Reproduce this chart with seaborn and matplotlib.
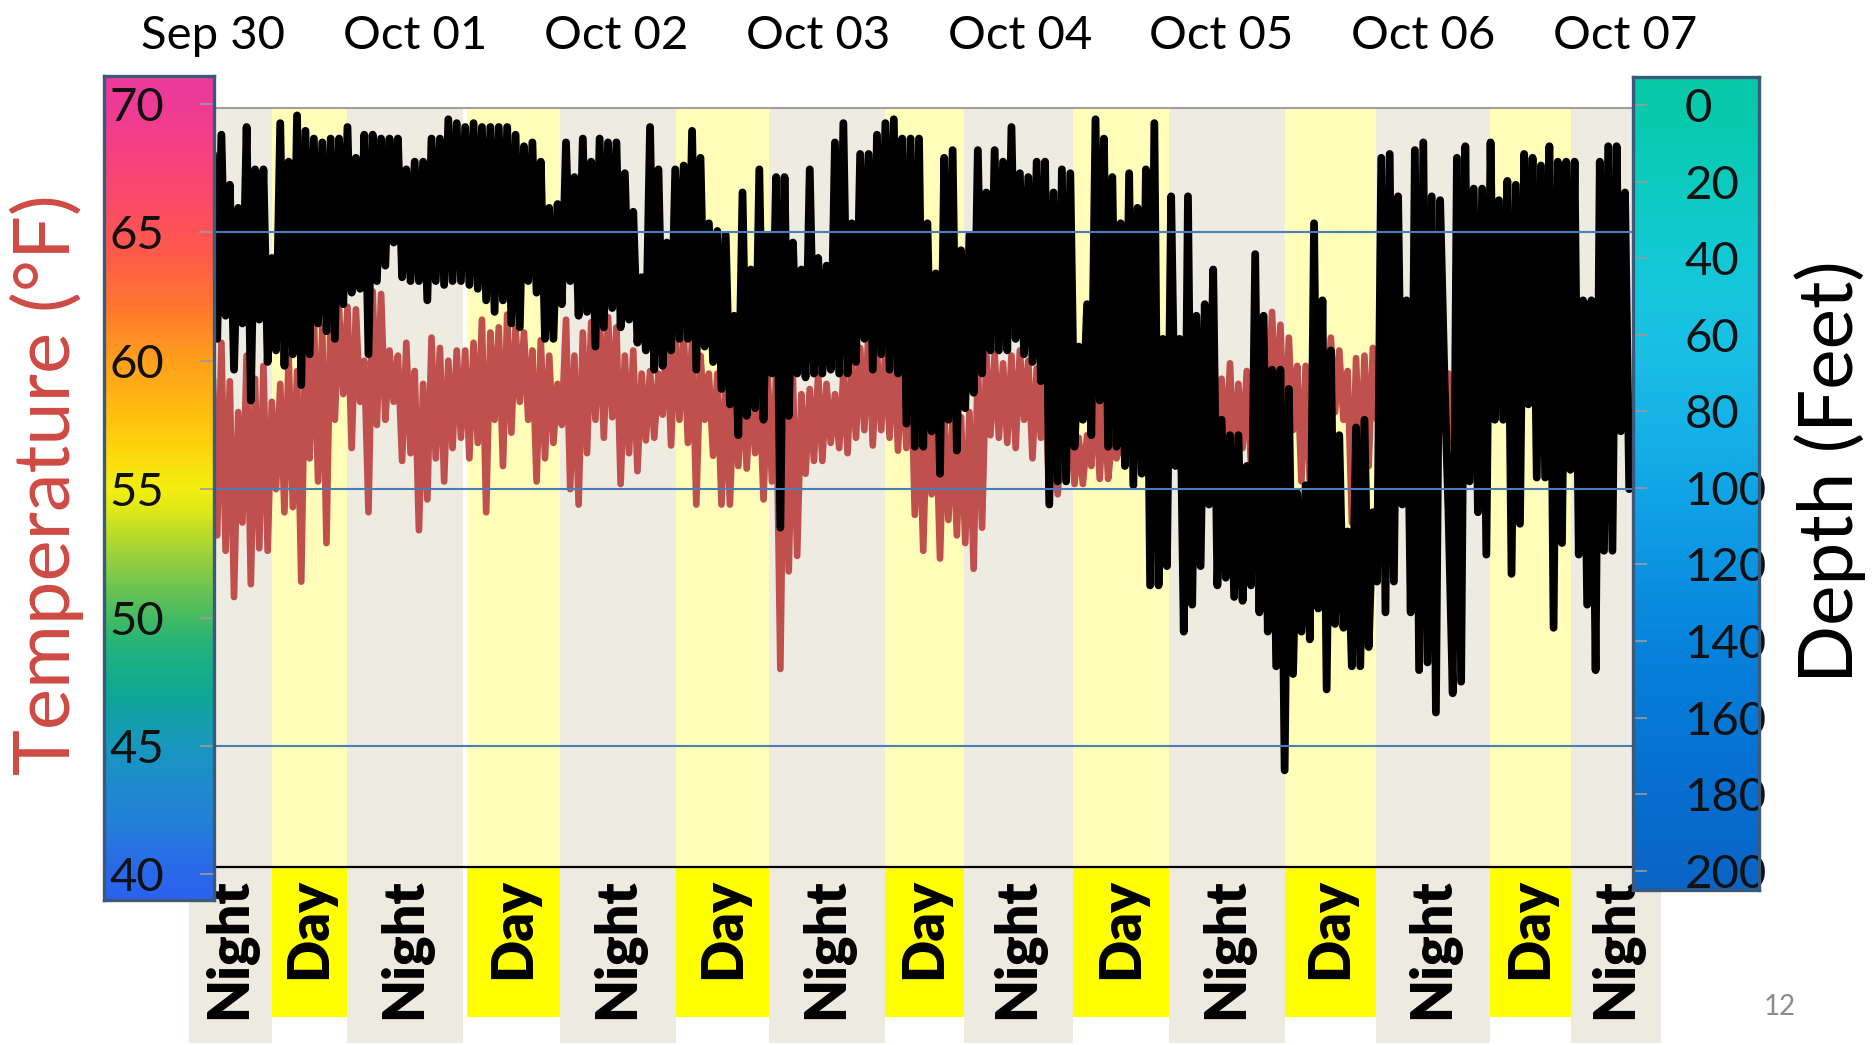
import numpy as np
import pandas as pd
import matplotlib
matplotlib.use("Agg")
import matplotlib.pyplot as plt
import matplotlib.transforms as mtransforms
from matplotlib.colors import LinearSegmentedColormap, Normalize
from matplotlib.lines import Line2D
from matplotlib.patches import Rectangle
import seaborn as sns

# hourly readings off the tag log, hour 0 = midnight Sep 30
# shallowest / deepest point reached in each hour (feet)
depth_shallow = [
    13, 8, 21, 27, 6, 17, 17, 40, 5, 15, 3, 7, 9, 10, 9, 9, 6, 14, 8, 8, 9, 9, 9, 17,
    15, 15, 9, 9, 4, 5, 6, 5, 6, 6, 6, 6, 8, 11, 10, 15, 27, 26, 10, 19, 9, 15, 9, 10,
    10, 18, 28, 45, 6, 17, 36, 17, 16, 7, 14, 31, 33, 34, 55, 23, 43, 17, 34, 19, 19, 36,
    43, 17, 40, 42, 10, 5, 31, 13, 13, 8, 5, 4, 9, 9, 9, 31, 44, 14, 12, 38, 34, 12,
    23, 12, 15, 6, 18, 19, 15, 15, 23, 17, 18, 63, 52, 4, 9, 19, 31, 18, 27, 17, 5, 61,
    24, 61, 24, 55, 52, 43, 82, 86, 86, 94, 39, 55, 69, 69, 74, 101, 99, 31, 51, 64, 86, 111,
    84, 82, 106, 14, 13, 24, 51, 12, 10, 24, 25, 106, 14, 11, 22, 22, 10, 25, 20, 21, 13, 14,
    16, 11, 15, 15, 15, 51, 51, 15, 11, 11, 23,
]
depth_deep = [
    61, 55, 69, 57, 77, 56, 67, 64, 68, 65, 73, 65, 57, 59, 61, 52, 49, 48, 65, 46, 42, 36, 45, 46,
    46, 51, 46, 47, 46, 46, 47, 48, 51, 54, 51, 57, 58, 46, 49, 61, 61, 52, 46, 55, 54, 63, 58, 53,
    58, 56, 62, 64, 69, 68, 64, 61, 61, 69, 63, 67, 74, 78, 86, 81, 79, 82, 70, 110, 81, 70,
    71, 70, 70, 69, 70, 70, 67, 61, 69, 65, 69, 70, 83, 89, 89, 85, 96, 82, 90, 79, 75, 70,
    64, 64, 64, 61, 65, 67, 72, 104, 98, 98, 89, 82, 86, 77, 89, 89, 94, 99, 96, 125, 125, 120,
    94, 137, 130, 120, 104, 125, 123, 128, 129, 125, 132, 137, 146, 173, 148, 137, 139, 131, 152, 135, 136, 146,
    146, 141, 124, 132, 124, 104, 132, 147, 145, 158, 70, 153, 150, 98, 106, 117, 82, 82, 122, 109, 78, 97,
    97, 136, 114, 95, 117, 130, 147, 116, 116, 85, 100,
]
# warmest / coldest water in each hour (deg F)
temp_warm = [
    59.3, 60.7, 59.2, 58.0, 60.2, 59.3, 59.8, 58.4, 59.1, 60.2, 59.6, 61.2, 61.8, 61.3, 62.1, 62.0,
    62.1, 62.0, 60.0, 62.7, 62.6, 60.4, 60.2, 60.7, 59.6, 59.1, 60.9, 60.5,
    60.0, 60.4, 60.4, 60.7, 61.6, 61.1, 61.3, 61.8, 61.3, 61.1, 60.4, 60.8, 60.2, 59.1, 61.6, 60.2,
    61.1, 61.5, 61.9, 61.7, 61.3, 60.2, 60.4, 59.5, 59.6, 59.5, 61.1, 61.1,
    61.2, 60.9, 60.2, 59.5, 59.5, 59.3, 59.1, 59.3, 59.1, 59.1, 59.5, 59.5, 60.2, 59.3, 58.7, 58.9,
    59.5, 59.1, 58.7, 59.5, 60.2, 60.5, 61.3, 60.4, 60.5, 60.7, 60.2, 60.5,
    58.4, 58.6, 58.0, 58.0, 57.8, 57.8, 58.0, 60.1, 60.2, 60.3, 59.9, 60.2, 60.4, 60.0, 59.7, 59.5,
    57.7, 57.3, 57.8, 57.0, 57.1, 59.1, 58.7, 57.0, 56.8, 58.6, 59.1, 59.5,
    59.5, 59.5, 59.3, 59.3, 59.5, 60.2, 60.7, 61.1, 59.3, 59.9, 59.1, 59.6, 58.7, 60.2, 61.9, 61.4,
    60.9, 59.8, 59.8, 59.1, 60.7, 60.9, 60.4, 59.6, 60.1, 60.2, 60.5, 59.5,
    60.2, 60.9, 61.3, 60.5, 60.9, 61.4, 59.8, 59.5, 60.5, 61.0, 61.0, 60.8, 60.8, 60.7, 60.9, 61.0,
    60.8, 60.6, 60.8, 60.9, 61.0, 60.7, 60.5, 60.6, 60.8, 60.9, 60.7, 60.5, 60.6,
]
temp_cold = [
    53.2, 52.6, 50.8, 53.7, 51.3, 52.7, 52.6, 55.0, 54.1, 54.3, 51.4, 56.2, 55.3, 52.9, 57.7, 58.7,
    56.6, 58.4, 54.1, 57.5, 57.7, 58.4, 56.1, 56.4, 53.4, 54.6, 56.2, 55.3,
    56.6, 57.0, 56.2, 56.8, 54.1, 57.7, 55.9, 57.2, 58.4, 57.7, 55.3, 56.2, 56.8, 57.5, 55.0, 54.4,
    56.4, 57.7, 57.0, 57.8, 55.2, 56.4, 55.7, 56.9, 57.0, 57.9, 56.7, 57.7,
    56.8, 54.4, 57.7, 56.3, 54.4, 54.4, 55.9, 55.8, 56.4, 54.6, 55.3, 48.0, 51.8, 52.4, 55.6, 56.1,
    56.1, 56.8, 56.6, 56.4, 57.0, 57.3, 56.7, 57.3, 57.0, 56.5, 56.6, 54.0,
    52.6, 54.8, 52.3, 53.8, 53.2, 52.9, 51.9, 53.5, 57.1, 57.0, 56.8, 56.6, 57.7, 56.2, 57.0, 54.4,
    54.8, 55.3, 55.2, 55.2, 55.9, 55.4, 55.4, 56.2, 56.2, 56.2, 57.3, 56.6,
    57.3, 57.0, 57.1, 58.0, 57.7, 57.3, 57.0, 56.6, 56.2, 55.9, 56.6, 55.9, 56.3, 57.7, 57.8, 56.3,
    57.3, 55.3, 55.2, 56.6, 57.7, 58.0, 57.7, 53.7, 55.3, 55.9, 57.7, 57.3,
    57.7, 56.6, 54.4, 55.5, 56.6, 57.7, 57.7, 56.8, 57.7, 59.1, 59.1, 58.8, 59.0, 58.6, 58.7, 58.9,
    58.5, 58.8, 59.0, 58.6, 58.7, 58.9, 59.2, 58.8, 58.6, 58.7, 58.9, 59.0, 58.2,
]

date_labels = ['Sep 30', 'Oct 01', 'Oct 02', 'Oct 03', 'Oct 04', 'Oct 05', 'Oct 06', 'Oct 07']
date_hours = [0, 24, 48, 72, 96, 120, 144, 168]

# light periods (hours from midnight Sep 30)
period_names = ['Night', 'Day', 'Night', 'Day', 'Night', 'Day', 'Night', 'Day',
                'Night', 'Day', 'Night', 'Day', 'Night', 'Day', 'Night']
period_start = [0, 6.97, 15.94, 30.2, 41.3, 55.1, 66.2, 80.0, 89.3, 102.3, 113.7, 127.5, 138.4, 151.9, 161.6]
period_end = [6.97, 15.94, 29.7, 41.3, 55.1, 66.2, 80.0, 89.3, 102.3, 113.7, 127.5, 138.4, 151.9, 161.6, 169.0]

temp_ticks = [40, 45, 50, 55, 60, 65, 70]
depth_ticks = [0, 20, 40, 60, 80, 100, 120, 140, 160, 180, 200]
temp_guides = [65, 55, 45]

# colour ramps of the two scale bars
temp_ramp = [(39.0, '#2a62ee'), (40, '#2a68ea'), (42, '#2380d8'), (45, '#1898bf'), (47, '#0ea795'),
             (49, '#25b47a'), (50, '#45bb62'), (52, '#8ccc44'), (54, '#d8e61a'), (55, '#f4ef10'),
             (56.5, '#fcd80c'), (58, '#ffbd10'), (60, '#ffa01c'), (62, '#ff7a2c'), (64, '#ff5c48'),
             (66, '#fd4c64'), (68, '#f6427e'), (70, '#ee3a96'), (71.09, '#ec3a9c')]
depth_ramp = [(-7.3, '#05c9a7'), (0, '#07c9aa'), (20, '#0ccbbf'), (40, '#14c8d6'), (60, '#19c1e3'),
              (80, '#17b5e6'), (100, '#12a5e6'), (120, '#0b94e2'), (140, '#0784dc'), (160, '#0678d6'),
              (180, '#066ecf'), (205, '#0a64c4')]

hours = np.arange(len(depth_shallow))
df = pd.DataFrame({
    'hour': np.column_stack([hours, hours + 0.5]).ravel(),
    'depth': np.column_stack([depth_shallow, depth_deep]).ravel(),
    'temp': np.column_stack([temp_warm, temp_cold]).ravel(),
})

sns.set_theme(style='white')
plt.rcParams['font.family'] = ['Lato', 'DejaVu Sans']

W, H = 1876, 1045
fig = plt.figure(figsize=(W / 100, H / 100), dpi=100)


def frac(x0, y0, x1, y1):
    # pixel box (top-left origin) -> figure fraction rect
    return [x0 / W, 1 - y1 / H, (x1 - x0) / W, (y1 - y0) / H]


ax = fig.add_axes(frac(213, 108, 1633, 867))
ax.set_xlim(0, 168.95)
ax.set_ylim(40.29, 69.84)

band_bg = {'Night': '#eeebe1', 'Day': '#fffdb8'}
box_bg = {'Night': '#edeae0', 'Day': '#ffff00'}
box_depth = {'Night': 0.232, 'Day': 0.198}
trans = mtransforms.blended_transform_factory(ax.transData, ax.transAxes)
last = len(period_names) - 1
for i, (name, x0, x1) in enumerate(zip(period_names, period_start, period_end)):
    ax.axvspan(x0, x1, color=band_bg[name], lw=0, zorder=0)
    bx0 = x0 - 2.9 if i == 0 else x0
    bx1 = x1 + 3.3 if i == last else x1
    d = box_depth[name]
    ax.add_patch(Rectangle((bx0, -d), bx1 - bx0, d, transform=trans, facecolor=box_bg[name],
                           lw=0, clip_on=False, zorder=1))
    ax.text((bx0 + bx1) / 2, -0.015, name, transform=trans, rotation=90, ha='center', va='top',
            fontsize=40, fontweight='heavy', color='black', clip_on=False, zorder=3)

sns.lineplot(data=df, x='hour', y='temp', ax=ax, color='#c0504d', linewidth=4.8,
             estimator=None, sort=False, solid_capstyle='round', solid_joinstyle='round')
ax.set_xlim(0, 168.95)
ax.set_ylim(40.29, 69.84)
ax.set_xlabel('')
ax.set_ylabel('')
ax.set_yticks([])

# dates along the top
ax.xaxis.tick_top()
ax.set_xticks(date_hours)
ax.set_xticklabels(date_labels)
ax.set_xticks(date_hours[1:-1], minor=True)
ax.tick_params(axis='x', which='major', top=True, bottom=False, labeltop=True, labelbottom=False,
               length=0, pad=37, labelsize=34, labelcolor='black')
ax.tick_params(axis='x', which='minor', top=True, bottom=False, direction='out',
               length=13, width=1.5, color='#999999')
for side in ['top', 'left', 'right']:
    ax.spines[side].set_color('#a0a0a0')
    ax.spines[side].set_linewidth(1.5)
ax.spines['bottom'].set_color('black')
ax.spines['bottom'].set_linewidth(1.6)
ax.spines['bottom'].set_zorder(4)

# depth on its own inverted scale
ax2 = ax.twinx()
sns.lineplot(data=df, x='hour', y='depth', ax=ax2, color='black', linewidth=5.6,
             estimator=None, sort=False, solid_capstyle='round', solid_joinstyle='round')
ax2.set_ylim(198.1, 1.07)
ax2.set_xlim(0, 168.95)
ax2.set_ylabel('')
ax2.set_yticks([])
for s in ax2.spines.values():
    s.set_visible(False)
for t in temp_guides:
    ax2.add_line(Line2D([0, 1], [t, t], transform=ax.get_yaxis_transform(),
                        color='#4a7ebb', lw=1.5, zorder=5))


def scale_bar(rect, ramp, lo, hi, ticks, inverted, pad, tick_right):
    cax = fig.add_axes(rect)
    cmap = LinearSegmentedColormap.from_list(
        'ramp', [((v - lo) / (hi - lo), c) for v, c in ramp])
    grad = np.linspace(lo, hi, 500).reshape(-1, 1)
    cax.imshow(grad, extent=[0, 1, lo, hi], origin='lower', aspect='auto',
               cmap=cmap, norm=Normalize(lo, hi))
    cax.set_xlim(0, 1)
    cax.set_ylim((hi, lo) if inverted else (lo, hi))
    cax.set_xticks([])
    cax.set_yticks(ticks)
    cax.set_yticklabels([str(t) for t in ticks])
    cax.tick_params(axis='y', left=not tick_right, right=tick_right, labelleft=True,
                    labelright=False, direction='in', length=10, width=1.2,
                    color='#9a9a9a', pad=pad, labelsize=34, labelcolor='#111111')
    for lab in cax.get_yticklabels():
        lab.set_horizontalalignment('left')
    for s in cax.spines.values():
        s.set_color('#3b5a7a')
        s.set_linewidth(2.4)
    return cax


scale_bar(frac(104, 76, 214, 900), temp_ramp, 39.0, 71.09, temp_ticks, False, -4, True)
scale_bar(frac(1633, 77, 1759, 890), depth_ramp, -7.3, 205, depth_ticks, True, -37, False)

fig.text(47 / W, 1 - 485 / H, 'Temperature (°F)', rotation=90, ha='center', va='center',
         fontsize=56, color='#cf4a44')
fig.text(1830 / W, 1 - 472 / H, 'Depth (Feet)', rotation=90, ha='center', va='center',
         fontsize=55, color='black')
fig.text(1780 / W, 1 - 1007 / H, '12', ha='center', va='center', fontsize=20, color='#8c8c8c')

fig.savefig('out.png', dpi=100)
